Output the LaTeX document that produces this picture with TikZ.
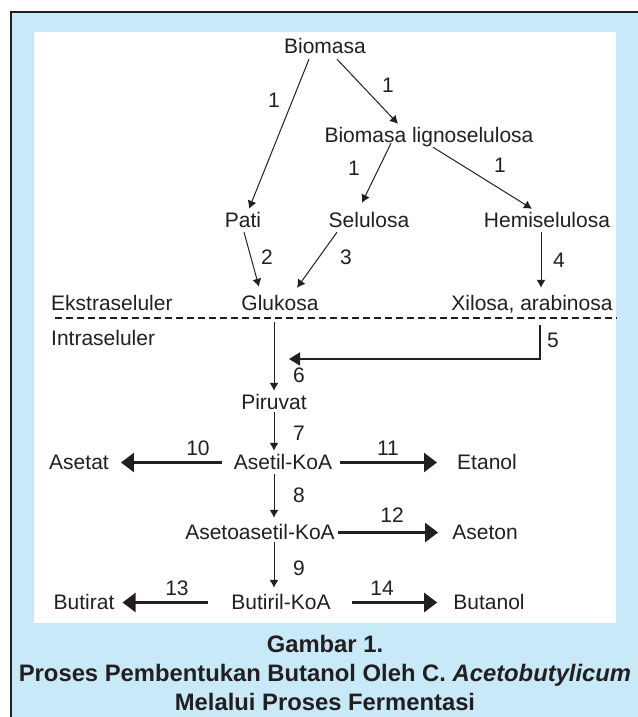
\documentclass[tikz,border=0pt]{standalone}
\usepackage{fontspec}
\setmainfont{Liberation Sans}
\usepackage{tikz}
\usetikzlibrary{arrows.meta,calc}
\definecolor{Sky}{HTML}{C8E9F8}
\definecolor{Ink}{HTML}{231F20}
\begin{document}
\begin{tikzpicture}[x=1pt,y=-1pt,
    term/.style={anchor=base,inner sep=3pt,text height=15pt,text depth=2pt,
                 text=Ink,font=\fontsize{21}{25}\selectfont},
    num/.style={inner sep=0pt,text=Ink,font=\fontsize{21}{25}\selectfont},
    slim/.style={draw=Ink,line width=1pt,-{Latex[length=8pt,width=9pt]}},
    heavy/.style={draw=Ink,line width=2.4pt,-{Triangle[length=13pt,width=19pt]}}]
  \useasboundingbox (0,0) rectangle (637,717);
  % frame
  \draw[fill=Sky,draw=Ink,line width=2.4pt] (11,12) rectangle (660,740);
  \fill[white] (34,32) rectangle (616,623);
  \draw[draw=Ink,line width=2.2pt,dash pattern=on 7pt off 4pt] (55,318) -- (617,318);
  % compounds
  \node[term] (bio) at (325,54) {Biomasa};
  \node[term] (lig) at (429,142) {Biomasa lignoselulosa};
  \node[term] (pati) at (243,227) {Pati};
  \node[term] (sel) at (369,227) {Selulosa};
  \node[term] (hem) at (547,227) {Hemiselulosa};
  \node[term,anchor=base west] (eks) at (48,310) {Ekstraseluler};
  \node[term] (glu) at (280,310) {Glukosa};
  \node[term] (xil) at (532,310) {Xilosa, arabinosa};
  \node[term,anchor=base west] (intra) at (48,345) {Intraseluler};
  \node[term] (pir) at (274,409) {Piruvat};
  \node[term] (ack) at (283,469) {Asetil-KoA};
  \node[term] (asetat) at (79,469) {Asetat};
  \node[term] (etanol) at (487,469) {Etanol};
  \node[term] (aak) at (260,539) {Asetoasetil-KoA};
  \node[term] (aseton) at (485,539) {Aseton};
  \node[term] (btk) at (281,609) {Butiril-KoA};
  \node[term] (butirat) at (84,609) {Butirat};
  \node[term] (butanol) at (489,609) {Butanol};
  % step numbers
  \foreach \t/\x/\y [count=\i] in {1/274/100,1/388/85,1/354/168,1/500/165,
      2/267/257,3/346/257,4/559/260,5/553/340,6/299/375,7/299/433,8/299/495,
      9/299/568,10/198/448,11/388/448,12/392/515,13/177/588,14/382/588}
    \node[num] (n\i) at (\x,\y) {\t};
  % extracellular arrows
  \draw[slim] ([xshift=-16pt]bio.south) -- ([xshift=6pt]pati.north);
  \draw[slim] ([xshift=12pt]bio.south) -- ([xshift=-31pt]lig.north);
  \draw[slim] ([xshift=-38pt,yshift=4pt]lig.south) -- ([xshift=-7pt,yshift=6pt]sel.north);
  \draw[slim] ([xshift=4pt]lig.south) -- ([xshift=-15pt]hem.north);
  \draw[slim] ([xshift=1pt]pati.south) -- ([xshift=-21pt,yshift=5pt]glu.north);
  \draw[slim] ([xshift=-32pt]sel.south) -- ([xshift=17pt,yshift=4pt]glu.north);
  \coordinate (h4) at ($(hem.south)+(-6,0)$);
  \draw[slim] (h4) -- ($(h4 |- xil.north)+(0,-4)$);
  % intracellular arrows
  \coordinate (col) at (274,0);
  \coordinate (m6) at (289,359);
  \coordinate (x5) at ($(xil.south)+(8,10)$);
  \draw[draw=Ink,line width=1.8pt,-{Triangle[length=11pt,width=13pt]}] (x5) -- (x5 |- m6) -- (m6);
  \draw[slim] ($(glu.south -| col)+(0,7)$) -- (pir.north -| col);
  \draw[slim] ($(pir.south -| col)+(0,-2)$) -- (ack.north -| col);
  \draw[slim] (ack.south -| col) -- ($(aak.north -| col)+(0,-3)$);
  \draw[slim] ($(aak.south -| col)+(0,-2)$) -- ($(btk.north -| col)+(0,-3)$);
  \draw[heavy,shorten <=9pt,shorten >=9pt] (ack.west) -- (asetat.east);
  \draw[heavy,shorten <=5pt,shorten >=17pt] (ack.east) -- (etanol.west);
  \draw[heavy,shorten >=11pt] (aak.east) -- (aseton.west);
  \draw[heavy,shorten <=20pt,shorten >=5pt] (btk.west) -- (butirat.east);
  \draw[heavy,shorten <=18pt,shorten >=13pt] (btk.east) -- (butanol.west);
  % caption
  \node[inner sep=0pt,align=center,text=Ink,font=\fontsize{23.8}{29}\selectfont\bfseries] (cap) at (325,673)
    {Gambar 1.\\Proses Pembentukan Butanol Oleh C. \textit{Acetobutylicum}\\Melalui Proses Fermentasi};
\end{tikzpicture}
\end{document}
